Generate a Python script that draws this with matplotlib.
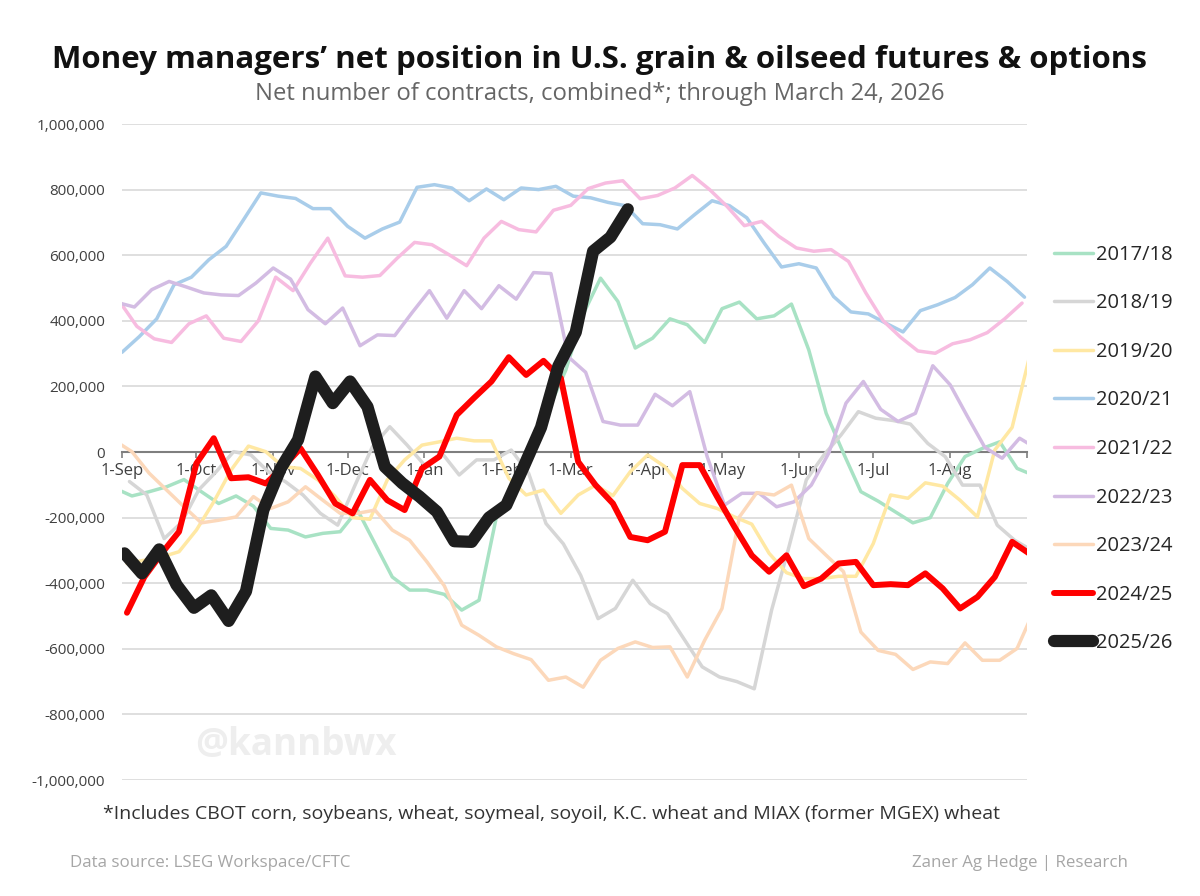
import matplotlib.pyplot as plt
import numpy as np
import pandas as pd
from matplotlib.ticker import FuncFormatter

plt.rcParams['font.family'] = ['Open Sans', 'DejaVu Sans']

# Seasons, first weekly report date (Tuesday nearest Sep 1) and net positions (thousand contracts)
seasons = ['2017/18', '2018/19', '2019/20', '2020/21', '2021/22',
           '2022/23', '2023/24', '2024/25', '2025/26']
first_report = ['2017-08-29', '2018-09-04', '2019-09-03', '2020-09-01', '2021-08-31',
                '2022-08-30', '2023-08-29', '2024-09-03', '2025-09-02']

net_1718 = [-110, -134, -121, -106, -84, -121, -157, -134, -165, -233,
            -238, -259, -248, -243, -177, -279, -381, -421, -421, -434,
            -482, -452, -198, -90, 20, 130, 250, 420, 530, 459,
            317, 347, 406, 388, 334, 437, 457, 406, 415, 451,
            311, 118, -4, -121, -150, -183, -216, -200, -96, -14,
            11, 31, -50, -72]
net_1819 = [-90, -131, -264, -215, -115, -60, 1, -9, -60, -91,
            -131, -187, -223, -101, 16, 77, 21, -40, -3, -70,
            -24, -24, 6, -65, -218, -280, -376, -508, -477, -391,
            -462, -493, -574, -655, -686, -700, -722, -482, -289, -85,
            -10, 52, 123, 103, 96, 85, 26, -14, -101, -101,
            -223, -269, -300]
net_1920 = [-340, -330, -320, -304, -238, -152, -55, 18, 1, -45,
            -50, -85, -136, -200, -205, -85, -24, 21, 31, 42,
            34, 34, -80, -131, -116, -187, -131, -101, -133, -60,
            -9, -45, -111, -157, -172, -198, -220, -309, -368, -386,
            -386, -379, -379, -279, -131, -141, -94, -104, -147, -198,
            6, 75, 290]
net_2021 = [304, 352, 406, 510, 533, 586, 627, 708, 790, 780,
            773, 742, 742, 688, 652, 680, 701, 807, 815, 805,
            766, 802, 769, 805, 800, 810, 780, 775, 761, 751,
            696, 693, 680, 724, 766, 751, 714, 637, 564, 574,
            561, 474, 427, 421, 393, 366, 431, 449, 471, 510,
            561, 520, 472]
net_2122 = [459, 383, 345, 334, 391, 415, 347, 337, 400, 533,
            492, 576, 652, 537, 533, 538, 591, 639, 632, 601,
            568, 652, 703, 678, 671, 737, 752, 803, 820, 827,
            772, 782, 805, 843, 800, 749, 690, 703, 657, 622,
            612, 617, 581, 485, 400, 350, 308, 301, 330, 342,
            364, 406, 454]
net_2223 = [456, 442, 495, 520, 503, 485, 479, 477, 515, 561,
            527, 434, 391, 439, 324, 357, 355, 425, 492, 408,
            492, 437, 507, 466, 547, 544, 290, 243, 93, 82,
            82, 176, 141, 184, -14, -162, -126, -126, -167, -152,
            -101, -4, 149, 215, 130, 93, 118, 263, 205, 108,
            14, -19, 42, 10]
net_2324 = [35, 1, -65, -116, -167, -216, -208, -198, -136, -172,
            -152, -106, -147, -187, -187, -177, -238, -269, -335, -408,
            -528, -559, -594, -615, -633, -696, -686, -717, -635, -599,
            -579, -596, -594, -686, -574, -477, -198, -124, -131, -101,
            -264, -315, -365, -549, -605, -617, -663, -640, -645, -582,
            -635, -635, -599, -480]
net_2425 = [-490, -381, -309, -243, -35, 42, -80, -77, -96, -45,
            11, -70, -157, -187, -85, -147, -177, -50, -14, 113,
            165, 215, 289, 235, 278, 225, -30, -101, -157, -259,
            -269, -243, -40, -40, -136, -228, -315, -365, -315, -409,
            -386, -340, -335, -406, -403, -406, -370, -416, -477, -442,
            -381, -274, -310]
net_2526 = [-309, -370, -297, -405, -475, -437, -515, -425, -177, -50,
            37, 230, 149, 215, 138, -45, -95, -136, -182, -272,
            -274, -200, -162, -45, 75, 262, 365, 612, 655, 740]

series = [net_1718, net_1819, net_1920, net_2021, net_2122,
          net_2223, net_2324, net_2425, net_2526]

colors = ['#A8E2C4', '#D6D6D6', '#FFE8A3', '#A9CDEA', '#F7BCE0',
          '#D3BCE3', '#FCD8BA', '#FF0000', '#1E1E1E']
widths = [2.5, 2.5, 2.5, 2.5, 2.5, 2.5, 2.5, 4.3, 8.8]

month_days = [0, 30, 61, 91, 122, 153, 181, 212, 242, 273, 303, 334, 365]
month_labels = ['1-Sep', '1-Oct', '1-Nov', '1-Dec', '1-Jan', '1-Feb', '1-Mar',
                '1-Apr', '1-May', '1-Jun', '1-Jul', '1-Aug', '']

fig = plt.figure(figsize=(12, 8.96), dpi=100)
ax = fig.add_axes([122 / 1200, 1 - 780 / 896, (1027 - 122) / 1200, (780 - 124) / 896])

for i, (season, start, vals) in enumerate(zip(seasons, first_report, series)):
    dates = pd.date_range(start, periods=len(vals), freq='7D')
    season_start = pd.Timestamp(f'{season[:4]}-09-01')
    x = (dates - season_start).days
    ax.plot(x, np.array(vals) * 1000, color=colors[i], lw=widths[i],
            solid_joinstyle='round', solid_capstyle='round',
            zorder=2 + (i >= 7) + (i >= 8), label=season)

ax.set_xlim(0, 365)
ax.set_ylim(-1_000_000, 1_000_000)
ax.set_yticks(np.arange(-1_000_000, 1_000_001, 200_000))
ax.yaxis.set_major_formatter(FuncFormatter(lambda v, p: f'{v:,.0f}'))
ax.grid(axis='y', color='#D9D9D9', lw=1.2)
ax.set_axisbelow(True)

for s in ['top', 'right', 'left']:
    ax.spines[s].set_visible(False)
ax.spines['bottom'].set_position(('data', 0))
ax.spines['bottom'].set_color('#7F7F7F')
ax.spines['bottom'].set_linewidth(1.5)
ax.spines['bottom'].set_zorder(1.5)

ax.set_xticks(month_days)
ax.set_xticklabels(month_labels)
ax.tick_params(axis='x', direction='out', length=4, width=1.2, color='#7F7F7F',
               labelsize=12, labelcolor='#404040', pad=4)
ax.tick_params(axis='y', length=0, labelsize=11, labelcolor='#404040', pad=12)

ax.legend(loc='center left', bbox_to_anchor=(1054 / 1200, 1 - 449 / 896),
          bbox_transform=fig.transFigure, frameon=False, fontsize=14.5,
          handlelength=1.95, handletextpad=0.15, labelspacing=1.42,
          borderaxespad=0, borderpad=0, labelcolor='#262626')

fig.text(0.5, 1 - 60 / 896,
         'Money managers\u2019 net position in U.S. grain & oilseed futures & options',
         ha='center', va='center', fontsize=22.5, fontweight='bold', color='#111111')
fig.text(0.5, 1 - 94 / 896, 'Net number of contracts, combined*; through March 24, 2026',
         ha='center', va='center', fontsize=17.2, color='#666666')
fig.text(103 / 1200, 1 - 814 / 896,
         '*Includes CBOT corn, soybeans, wheat, soymeal, soyoil, K.C. wheat and MIAX (former MGEX) wheat',
         ha='left', va='center', fontsize=14, color='#333333')
fig.text(70 / 1200, 1 - 863 / 896, 'Data source: LSEG Workspace/CFTC',
         ha='left', va='center', fontsize=12.2, color='#A6A6A6')
fig.text(1128 / 1200, 1 - 863 / 896, 'Zaner Ag Hedge | Research',
         ha='right', va='center', fontsize=12.2, color='#A6A6A6')
fig.text(195 / 1200, 1 - 745 / 896, '@kannbwx', ha='left', va='center',
         fontsize=26.5, fontweight='bold', color='#EEEEEE', zorder=0)

fig.savefig('out.png', dpi=100)
